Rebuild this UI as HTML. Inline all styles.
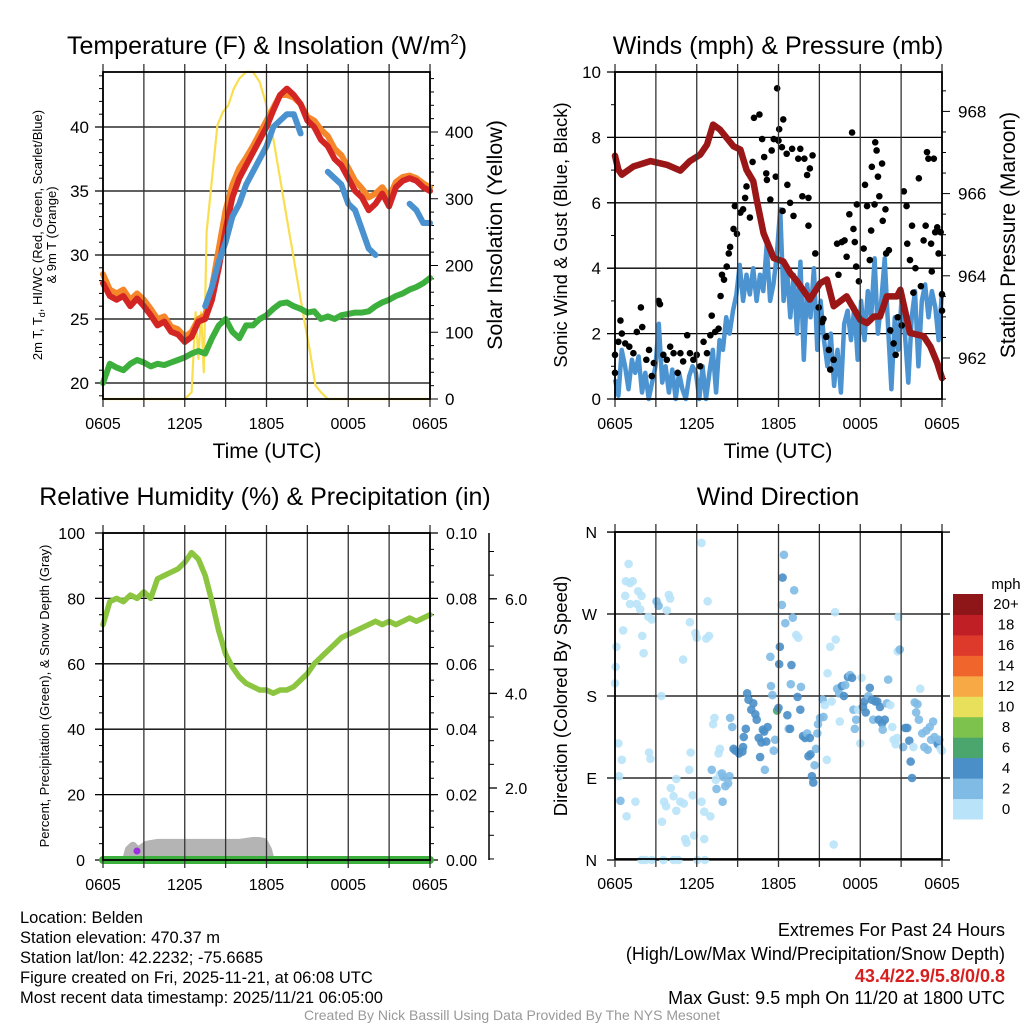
<!DOCTYPE html>
<html><head><meta charset="utf-8"><title>Mesonet Station Belden</title>
<style>
html,body{margin:0;padding:0;background:#fff;}
svg{display:block;font-family:"Liberation Sans",Arial,sans-serif;}
</style></head>
<body>
<svg id="chart" width="1024" height="1024" viewBox="0 0 1024 1024" xmlns="http://www.w3.org/2000/svg">
<rect x="0" y="0" width="1024" height="1024" fill="#fff"/>
<text x="267" y="54" font-size="25" text-anchor="middle">Temperature (F) &amp; Insolation (W/m<tspan font-size="15" dy="-10">2</tspan><tspan dy="10">)</tspan></text>
<text x="778" y="54" font-size="25" text-anchor="middle">Winds (mph) &amp; Pressure (mb)</text>
<text x="265" y="505" font-size="25" text-anchor="middle">Relative Humidity (%) &amp; Precipitation (in)</text>
<text x="778" y="505" font-size="25" text-anchor="middle">Wind Direction</text>

<text transform="translate(42,235) rotate(-90)" font-size="13" text-anchor="middle">2m T, T<tspan font-size="9" dy="3">d</tspan><tspan dy="-3">, HI/WC (Red, Green, Scarlet/Blue)</tspan></text>
<text transform="translate(56,235) rotate(-90)" font-size="13" text-anchor="middle">&amp; 9m T (Orange)</text>
<text transform="translate(502,235) rotate(-90)" font-size="21.5" text-anchor="middle">Solar Insolation (Yellow)</text>
<text transform="translate(567,235) rotate(-90)" font-size="18.5" text-anchor="middle">Sonic Wind &amp; Gust (Blue, Black)</text>
<text transform="translate(1015,235) rotate(-90)" font-size="21" text-anchor="middle">Station Pressure (Maroon)</text>
<text transform="translate(49,696) rotate(-90)" font-size="13" text-anchor="middle">Percent, Precipitation (Green), &amp; Snow Depth (Gray)</text>
<text transform="translate(567,696) rotate(-90)" font-size="18.5" text-anchor="middle">Direction (Colored By Speed)</text>
<text x="267" y="458" font-size="21" text-anchor="middle">Time (UTC)</text>
<text x="778" y="458" font-size="21" text-anchor="middle">Time (UTC)</text>

<g font-size="16.5">
<text x="20" y="923">Location: Belden</text>
<text x="20" y="943">Station elevation: 470.37 m</text>
<text x="20" y="963">Station lat/lon: 42.2232; -75.6685</text>
<text x="20" y="983">Figure created on Fri, 2025-11-21, at 06:08 UTC</text>
<text x="20" y="1003">Most recent data timestamp: 2025/11/21 06:05:00</text>
</g>
<g font-size="18" text-anchor="end">
<text x="1005" y="936">Extremes For Past 24 Hours</text>
<text x="1005" y="960">(High/Low/Max Wind/Precipitation/Snow Depth)</text>
<text x="1005" y="982" fill="#d62020" font-weight="bold">43.4/22.9/5.8/0/0.8</text>
<text x="1005" y="1004">Max Gust: 9.5 mph On 11/20 at 1800 UTC</text>
</g>
<text x="512" y="1020" font-size="14" fill="#999" text-anchor="middle">Created By Nick Bassill Using Data Provided By The NYS Mesonet</text>
<g id="layer"></g>
</svg>
<script>
// ---------- data ----------
const xTickLabels = ["0605","1205","1805","0005","0605"];
const tempHours = [0,0.5,1,1.5,2,2.5,3,3.5,4,4.5,5,5.5,6,6.5,7,7.5,8,8.5,9,9.5,10,10.5,11,11.5,12,12.5,13,13.5,14,14.5,15,15.5,16,16.5,17,17.5,18,18.5,19,19.5,20,20.5,21,21.5,22,22.5,23,23.5,24];
const temp2m = [27.8,26.8,26.5,26.8,26.0,26.6,26.0,25.3,24.5,24.8,24.0,23.8,23.2,23.6,24.8,25.0,26.5,29.0,32.0,34.5,36.0,37.0,38.0,39.0,40.0,41.3,42.5,43.0,42.5,41.8,40.5,40.0,39.0,38.5,37.5,37.0,36.0,35.0,34.5,33.5,34.0,34.8,33.8,35.3,35.8,36.0,35.8,35.3,35.0];
const temp9m = [28.5,27.3,27.0,27.3,26.5,27.0,26.5,25.8,25.0,25.2,24.4,24.2,23.6,24.0,25.0,25.3,27.5,30.5,33.5,35.5,36.8,37.6,38.5,39.5,40.5,41.5,42.5,42.5,42.3,41.8,40.8,40.5,39.8,39.3,38.3,37.8,36.8,35.8,35.2,34.5,34.8,35.3,34.5,35.7,36.1,36.2,36.0,35.6,35.3];
const windChill = [null,null,null,null,null,null,null,null,null,null,null,null,null,null,null,26.0,27.5,29.5,31.0,33.0,34.0,35.5,36.5,37.5,38.5,40.0,40.5,41.0,41.0,39.5,null,null,null,36.5,36.0,35.5,34.0,33.5,32.0,30.5,30.0,null,31.5,null,null,34.0,33.5,32.5,32.5];
const dewPoint = [20.0,21.5,21.2,21.0,21.5,21.8,21.6,21.3,21.5,21.4,21.6,21.8,22.0,22.3,22.5,22.3,23.5,24.5,25.0,24.0,23.5,24.5,24.5,25.0,25.3,25.8,26.2,26.3,26.0,25.8,25.5,25.6,25.0,25.2,25.0,25.3,25.4,25.5,25.5,25.6,26.0,26.3,26.5,26.8,27.0,27.3,27.5,27.8,28.2];
const solarHours = [0,6,6.5,6.8,7.0,7.2,7.4,7.6,8.0,8.4,8.8,9.2,9.6,10,10.5,11,11.5,12,12.5,13,13.5,14,14.5,14.8,15.2,15.6,16,16.5,24];
const solarValues = [0,0,10,130,60,130,40,250,330,410,430,440,465,480,490,490,475,440,390,330,270,210,150,115,70,20,10,0,0];
const tempTicks = [20,25,30,35,40];
const solarTicks = [0,100,200,300,400];

const windSpeed = [0.6,0.1,1.5,1.0,0.3,1.2,0.8,1.3,0.2,0.8,0.0,0.5,1.0,2.3,0.5,1.0,0.2,0.9,0.0,0.8,0.3,0.0,0.7,1.0,0.8,0.0,1.0,0.0,0.8,1.5,0.2,1.8,1.5,2.5,2.0,2.7,3.2,4.1,3.0,3.8,3.2,4.0,3.0,3.8,3.3,4.7,3.0,3.5,4.4,5.8,3.0,4.0,2.5,3.8,2.0,4.2,1.2,3.5,2.5,4.0,1.5,3.0,1.8,1.0,2.0,0.4,1.5,0.2,2.3,2.7,1.8,2.8,1.2,3.0,1.8,3.3,2.5,4.3,2.0,3.0,4.3,2.2,0.3,2.5,1.5,3.0,2.0,0.5,2.5,3.3,1.0,3.0,3.5,2.5,3.3,2.8,1.8,3.3];
const gustHours = [0,0,0.25,0.4,0.5,0.75,1.05,1.35,1.6,1.9,2.0,2.3,2.5,2.7,2.85,3.2,3.3,3.55,3.8,4.05,4.3,4.6,4.8,5.0,5.3,5.5,5.75,6.0,6.25,6.5,6.75,7.0,7.1,7.35,7.6,7.75,7.85,8.0,8.2,8.35,8.45,8.7,8.8,8.95,9.2,9.4,9.55,9.65,9.8,9.9,10.1,10.2,10.6,10.8,10.95,11.1,11.15,11.4,11.5,11.65,11.8,11.9,12.0,12.05,12.25,12.3,12.35,12.6,12.65,12.85,13.0,13.1,13.45,13.6,13.75,13.9,14.1,14.2,14.3,14.5,14.2,14.7,14.95,15.2,15.3,15.5,15.7,15.8,16.05,16.3,16.4,16.65,16.85,17.0,17.2,17.4,17.5,17.6,17.7,17.75,17.9,18.25,18.35,18.5,18.7,18.8,18.85,19.05,19.1,19.2,19.3,19.4,19.6,19.65,19.85,19.9,20.1,20.2,20.45,20.6,20.75,21.05,21.2,21.4,21.45,21.65,21.8,21.9,22.05,22.3,22.45,22.65,22.8,22.9,23.0,23.2,23.25,23.4,23.5,23.65,23.75,23.9,24.0,24.0];
const gustValues = [1.35,0.8,1.75,2.4,2.0,1.7,1.6,1.4,2.05,2.8,2.2,1.2,1.5,0.7,1.1,3.0,2.9,1.35,1.2,1.6,1.4,0.8,1.4,1.15,1.95,1.4,1.2,1.35,1.0,1.75,1.4,1.95,2.55,2.05,2.15,3.15,3.8,3.65,4.05,4.45,4.65,5.2,5.9,5.05,5.7,5.8,6.15,6.5,6.9,5.55,7.25,8.6,8.7,7.95,7.4,6.9,6.7,6.1,7.6,7.95,6.8,9.5,7.9,8.25,7.7,5.75,8.55,7.5,6.55,6.0,7.65,5.6,7.35,7.65,6.2,7.35,6.85,6.15,7.05,7.45,5.3,4.45,2.8,2.35,2.45,1.9,1.5,0.9,1.2,4.75,3.8,4.8,4.85,4.35,5.65,8.15,5.2,4.8,4.05,5.95,3.6,4.6,6.55,5.9,4.25,5.15,7.1,5.95,7.85,7.6,6.8,6.2,7.2,5.45,5.8,4.45,4.55,2.1,1.7,1.35,2.5,2.25,6.35,5.9,4.75,4.25,5.3,3.25,4.0,6.75,3.45,4.85,5.3,7.55,7.35,4.75,3.9,7.35,5.1,5.25,4.45,5.1,3.2,2.7];
const pressureHours = [0,0.25,0.5,1.35,2.6,3.8,4.8,5.5,6.25,6.75,7.2,7.7,8.7,9.2,9.65,10.15,10.4,10.9,11.65,12.35,12.85,13.35,14.3,15.05,15.55,16.05,17.0,18.0,18.5,19.0,19.45,19.95,20.7,20.95,21.65,22.65,23.15,23.65,24.0];
const pressureValues = [966.92,966.58,966.46,966.66,966.79,966.70,966.56,966.79,966.95,967.19,967.68,967.56,967.15,967.07,966.58,966.30,965.85,965.04,964.43,964.35,964.07,963.87,963.42,963.82,963.91,963.26,963.50,962.93,962.85,963.01,963.01,963.50,963.50,963.66,962.61,962.53,962.28,961.88,961.51];
const windTicks = [0,2,4,6,8,10];
const pressureTicks = [962,964,966,968];

const rhHours = tempHours;
const rhValues = [72,79,80,79,81,80,82,80,86,87,88,89,91,94,92,87,79,70,63,59,56,54,53,52,52,51,52,52,53,55,57,60,62,64,66,68,69,70,71,72,73,72,73,72,73,74,73,74,75];
const precipValues = [0,0];
const snowHours = [1.7,1.9,2.2,2.5,2.8,3.2,3.6,4,6,8,10,10.5,11,11.4,11.8,12.1,12.3];
const snowDepth = [0.48,0.7,0.78,0.68,0.72,0.8,0.82,0.84,0.84,0.84,0.84,0.86,0.88,0.88,0.86,0.7,0.48];
const rhTicks = [0,20,40,60,80,100];
const precipTicks = ["0.00","0.02","0.04","0.06","0.08","0.10"];
const snowTicks = [2.0,4.0,6.0];

const dirHours = [0,0.05,0.1,0.25,0.3,0.5,0.4,0.85,1.5,0.6,0.75,0.8,1.0,1.1,1.3,1.1,1.6,1.7,1.95,1.85,2.0,2.1,2.45,2.7,2.5,2.6,3.05,3.2,3.4,3.45,3.6,3.75,3.8,3.95,4.05,4.1,4.3,4.5,4.5,4.8,5.05,5.0,5.15,5.25,5.45,5.5,5.55,5.7,5.8,5.9,6.0,6.05,6.35,6.55,6.55,6.6,6.35,6.7,6.9,6.8,7.0,7.1,7.2,7.3,7.4,7.45,7.6,7.7,7.7,7.85,7.95,7.9,8.1,8.3,8.4,8.45,8.6,1.95,2.25,2.7,3.55,4.3,4.65,
 8.7,8.85,9.1,9.35,9.4,9.45,9.6,9.7,9.8,10.0,10.15,10.3,10.4,10.55,10.65,10.75,10.85,10.95,11.1,11.2,11.0,11.4,11.45,11.55,11.65,11.75,11.9,12.0,12.1,12.05,12.3,12.4,12.25,12.5,12.65,12.75,12.85,12.9,12.95,13.05,13.15,13.3,13.45,13.4,13.6,13.65,13.8,13.95,14.1,14.2,14.3,14.35,14.45,14.55,14.65,14.75,14.85,14.9,15.05,15.3,15.25,15.4,15.55,15.6,15.8,15.9,16.05,16.15,16.2,16.3,16.45,16.5,16.65,16.8,16.9,17.1,17.25,17.4,17.5,17.6,17.7,17.85,18.0,18.1,18.2,18.3,18.4,18.6,18.7,18.85,18.95,19.1,19.25,19.35,19.45,19.6,19.65,19.8,19.95,20.05,20.2,20.35,20.45,20.6,20.7,20.75,20.9,20.8,21.15,21.3,21.45,21.6,21.7,21.8,21.9,22.0,22.1,22.2,22.3,22.4,22.55,22.7,22.85,22.95,23.1,23.2,23.35,23.45,23.6,23.7,23.8,23.9,24.0];
const dirDegrees = [194,212,234,128,92,110,65,48,64,252,290,306,325,304,306,281,281,295,290,275,246,227,267,264,118,111,284,279,180,42,64,59,274,291,287,79,70,89,54,64,62,220,23,19,99,261,118,71,27,249,244,0,64,53,23,0,348,243,246,284,48,99,149,156,88,78,117,122,94,95,91,64,81,84,92,156,146,0,0,0,0,0,0,
 122,120,117,119,124,135,144,183,176,165,172,160,154,134,113,129,143,141,130,146,99,223,191,181,120,132,164,167,234,215,310,335,280,260,159,144,144,193,214,266,296,247,244,179,165,190,136,134,139,114,134,116,92,85,104,122,139,149,156,157,176,170,110,205,234,174,17,272,242,188,183,152,191,180,192,201,203,200,165,144,154,165,128,200,168,174,162,180,189,176,154,174,174,154,168,150,143,154,172,198,170,146,132,127,134,229,231,267,124,145,145,131,108,90,124,173,162,171,154,188,139,124,142,121,146,132,152,135,130,127,132,122,120];
const dirSpeeds = [1,1,1,1,1,1,3,1,1,1,1,1,1,1,1,1,1,1,1,1,1,1,1,1,1,1,3,3,1,1,1,1,1,1,1,1,1,1,1,1,1,1,1,1,1,1,1,1,1,1,1,1,1,1,1,1,1,1,1,1,1,3,1,1,1,3,1,1,1,3,3,3,3,3,3,3,3,1,1,1,1,1,1,
 5,5,5,5,5,5,5,5,5,5,5,5,5,5,5,5,5,5,5,5,3,3,3,3,3,3,6.5,5,5,5,5,3,3,3,5,3,5,3,5,3,3,1,1,5,5,3,5,5,3,5,5,5,5,5,3,3,3,3,3,3,3,1,1,1,1,1,1,1,1,3,3,1,5,5,3,5,3,5,3,3,3,1,1,1,5,5,5,3,5,5,3,5,5,5,5,5,3,5,3,3,1,1,1,1,1,1,3,1,3,5,5,5,5,5,1,3,3,3,3,1,3,3,3,3,3,3,3,3,3,5,3,1,1];
const dirTickLabels = ["N","E","S","W","N"];
const speedBinLabels = ["0","2","4","6","8","10","12","14","16","18","20+"];
const speedBinColors = ["#b9e3f8","#7fbbe5","#4a8fc8","#4aa66c","#7ec24e","#e8e05a","#f6a945","#ef652c","#de3a2c","#c01f26","#8e1518"];

// ---------- scales ----------
const PW = 327, PH = 327;
const P1 = {x:103,y:72}, P2 = {x:615,y:72}, P3 = {x:103,y:533}, P4 = {x:615,y:532};
const xAt = (P,h) => P.x + h*PW/24;
const yTemp = t => 383 - (t-20)*12.8;
const ySolar = s => 399 - s*0.6675;
const yWind = v => 399 - v*32.7;
const yPres = p => 358 - (p-962)*41.1;
const yRH = r => 860 - r*3.27;
const yPrecip = p => 860 - p*3270;
const ySnow = d => 788 - (d-2)*47.3;
const yDir = d => 860 - d*0.911;

const NS = "http://www.w3.org/2000/svg";
const layer = document.getElementById('layer');
function mk(tag, attrs, parent){
  const e = document.createElementNS(NS, tag);
  for (const k in attrs) e.setAttribute(k, attrs[k]);
  (parent||layer).appendChild(e);
  return e;
}
function line(x1,y1,x2,y2,stroke,w,parent){
  return mk('line',{x1:x1,y1:y1,x2:x2,y2:y2,stroke:stroke,'stroke-width':w},parent);
}
function txt(x,y,s,size,anchor,parent){
  const t = mk('text',{x:x,y:y,'font-size':size,'text-anchor':anchor||'middle'},parent);
  t.textContent = s;
  return t;
}
function pathFrom(xs, ys){
  let d = '', pen = false;
  for (let i=0;i<xs.length;i++){
    if (ys[i]===null || ys[i]===undefined){ pen=false; continue; }
    d += (pen?'L':'M') + xs[i].toFixed(1) + ' ' + ys[i].toFixed(1) + ' ';
    pen = true;
  }
  return d;
}
function xAxis(P, name){
  const g = mk('g',{});
  
  
  for (let k=0;k<=8;k++){
    const x = xAt(P, k*3);
    line(x, P.y-8, x, P.y+PH+8, '#333', 1.3, g);
  }
  xTickLabels.forEach((lab,i)=>{
    const t = txt(xAt(P,i*6), P.y+PH+30, lab, 16, 'middle', g);
    
    
  });
  return g;
}
function frame(P, name){
  const r = mk('rect',{x:P.x,y:P.y,width:PW,height:PH,fill:'none',stroke:'#000','stroke-width':1.8});
  
  
}

// ---------- panel 1: temperature ----------
const g1 = mk('g',{});


xAxis(P1, 'temperature-x-axis');
for (let t=19;t<=44;t++){ line(P1.x-(t%5?4:8), yTemp(t), P1.x, yTemp(t), '#000', 1, g1); }
tempTicks.forEach(t=>{
  line(P1.x-8, yTemp(t), P1.x+PW, yTemp(t), '#000', 1.3, g1);
  const l = txt(P1.x-14, yTemp(t)+6, String(t), 17, 'end', g1);
  
  
});
for (let s=0;s<=480;s+=20){ line(P1.x+PW, ySolar(s), P1.x+PW+(s%100?4:8), ySolar(s), '#000', 1, g1); }
solarTicks.forEach(s=>{
  const l = txt(P1.x+PW+15, ySolar(s)+6, String(s), 17, 'start', g1);
  
  
});
const solarLine = mk('path',{d:pathFrom(solarHours.map(h=>xAt(P1,h)), solarValues.map(ySolar)),fill:'none',stroke:'#f9df4f','stroke-width':2.2,'stroke-linejoin':'round'},g1);


const txs = tempHours.map(h=>xAt(P1,h));
const dewLine = mk('path',{d:pathFrom(txs, dewPoint.map(yTemp)),fill:'none',stroke:'#3daf3d','stroke-width':6,'stroke-linejoin':'round','stroke-linecap':'round'},g1);


const t9Line = mk('path',{d:pathFrom(txs, temp9m.map(yTemp)),fill:'none',stroke:'#f5862a','stroke-width':6,'stroke-linejoin':'round','stroke-linecap':'round'},g1);


const t2Line = mk('path',{d:pathFrom(txs, temp2m.map(yTemp)),fill:'none',stroke:'#d42525','stroke-width':6,'stroke-linejoin':'round','stroke-linecap':'round'},g1);


const wcLine = mk('path',{d:pathFrom(txs, windChill.map(v=>v===null?null:yTemp(v))),fill:'none',stroke:'#4a92cf','stroke-width':6,'stroke-linejoin':'round','stroke-linecap':'round'},g1);


frame(P1, 'temperature-plot-frame');

// ---------- panel 2: winds & pressure ----------
const g2 = mk('g',{});


xAxis(P2, 'winds-x-axis');
for (let v=0;v<=10;v++){ line(P2.x-(v%2?4:8), yWind(v), P2.x, yWind(v), '#000', 1, g2); }
windTicks.forEach(v=>{
  line(P2.x-8, yWind(v), P2.x+PW, yWind(v), '#000', 1.3, g2);
  const l = txt(P2.x-14, yWind(v)+6, String(v), 17, 'end', g2);
  
  
});
for (let p=961;p<=968.9;p+=0.5){ line(P2.x+PW, yPres(p), P2.x+PW+(Math.abs(p%2)<0.01?8:4), yPres(p), '#000', 1, g2); }
pressureTicks.forEach(p=>{
  const l = txt(P2.x+PW+16, yPres(p)+6, String(p), 17, 'start', g2);
  
  
});
const wxs = windSpeed.map((v,i)=>xAt(P2, i*24/(windSpeed.length-1)));
const wLine = mk('path',{d:pathFrom(wxs, windSpeed.map(yWind)),fill:'none',stroke:'#4b93d1','stroke-width':4.5,'stroke-linejoin':'round'},g2);


gustHours.forEach((h,i)=>{
  const c = mk('circle',{cx:xAt(P2,h),cy:yWind(gustValues[i]),r:3.3,fill:'#000'},g2);
  
  
});
const pLine = mk('path',{d:pathFrom(pressureHours.map(h=>xAt(P2,h)), pressureValues.map(yPres)),fill:'none',stroke:'#9b1717','stroke-width':6.5,'stroke-linejoin':'round','stroke-linecap':'round'},g2);


frame(P2, 'winds-plot-frame');

// ---------- panel 3: RH & precip ----------
const g3 = mk('g',{});


xAxis(P3, 'humidity-x-axis');
for (let r=0;r<=100;r+=5){ line(P3.x-(r%20?4:8), yRH(r), P3.x, yRH(r), '#000', 1, g3); }
rhTicks.forEach(r=>{
  line(P3.x-8, yRH(r), P3.x+PW+8, yRH(r), '#000', 1.3, g3);
  const l = txt(P3.x-18, yRH(r)+6, String(r), 16, 'end', g3);
  
  
});
for (let p=0;p<=0.1001;p+=0.005){ line(P3.x+PW, yPrecip(p), P3.x+PW+4, yPrecip(p), '#000', 1, g3); }
precipTicks.forEach(p=>{
  const l = txt(P3.x+PW+16, yPrecip(parseFloat(p))+6, p, 16, 'start', g3);
  
  
});
const snowAxis = line(489, 533, 489, 860, '#000', 1.5, g3);


for (let d=0.5;d<=7.4;d+=0.5){ line(489, ySnow(d), 494, ySnow(d), '#000', 1, g3); }
snowTicks.forEach(d=>{
  line(489, ySnow(d), 497, ySnow(d), '#000', 1.3, g3);
  const l = txt(505, ySnow(d)+6, d.toFixed(1), 16, 'start', g3);
  
  
});
const sxs = snowHours.map(h=>xAt(P3,h)), sys = snowDepth.map(ySnow);
const snowArea = mk('path',{d:pathFrom(sxs, sys)+'L'+sxs[sxs.length-1]+' 860 L'+sxs[0]+' 860 Z',fill:'#b4b4b4',stroke:'#b4b4b4','stroke-width':8,'stroke-linejoin':'round'},g3);


const rhLine = mk('path',{d:pathFrom(rhHours.map(h=>xAt(P3,h)), rhValues.map(yRH)),fill:'none',stroke:'#8cc540','stroke-width':5.5,'stroke-linejoin':'round','stroke-linecap':'round'},g3);


frame(P3, 'humidity-plot-frame');
const prLine = mk('path',{d:pathFrom([xAt(P3,0),xAt(P3,24)], precipValues.map(yPrecip)),fill:'none',stroke:'#3daf3d','stroke-width':8,'stroke-linecap':'round'},g3);


const ptDot = mk('circle',{cx:137,cy:851,r:3.5,fill:'#9b30e0'},g3);



// ---------- panel 4: wind direction ----------
const g4 = mk('g',{});


xAxis(P4, 'direction-x-axis');
dirTickLabels.forEach((lab,i)=>{
  const y = yDir(i*90);
  line(P4.x-8, y, P4.x+PW+8, y, '#000', 1.3, g4);
  const l = txt(P4.x-18, y+6, lab, 16, 'end', g4);
  
  
});
dirHours.forEach((h,i)=>{
  const bin = Math.min(10, Math.floor(dirSpeeds[i]/2));
  const c = mk('circle',{cx:xAt(P4,h),cy:yDir(dirDegrees[i]),r:4.3,fill:speedBinColors[bin],'fill-opacity':0.9},g4);
  
  
});
frame(P4, 'direction-plot-frame');
const cb = mk('g',{});


const cbTop = 594, cbH = 225/11;
speedBinLabels.forEach((lab,i)=>{
  const y = cbTop + (10-i)*cbH;
  const r = mk('rect',{x:953,y:y,width:30,height:cbH+0.5,fill:speedBinColors[i]},cb);
  
  
  const l = txt(1006, y+cbH/2+5, lab, 15, 'middle', cb);
  
  
});
const unit = txt(1006, 589, 'mph', 15, 'middle', cb);


</script>
</body></html>
